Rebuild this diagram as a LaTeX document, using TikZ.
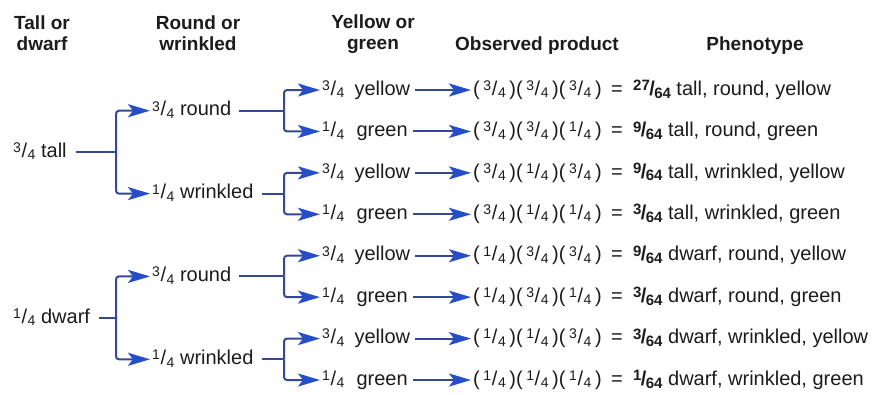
\documentclass[tikz,border=0pt]{standalone}
\usepackage{fontspec}
\setmainfont{Liberation Sans}
\usetikzlibrary{arrows.meta}
\definecolor{txt}{RGB}{28,28,28}
\definecolor{lin}{RGB}{52,72,150}
\definecolor{arw}{RGB}{38,78,200}
\newcommand{\fsm}{\fontsize{14}{15}\selectfont}
\newcommand{\fbg}{\fontsize{15}{16}\selectfont}
\newcommand{\fr}[2]{\raisebox{4.8pt}{\fsm #1}\kern0.6pt/\kern0.6pt\raisebox{-2.5pt}{\fsm #2}}
\newcommand{\bfr}[2]{\textbf{\raisebox{4.6pt}{\fbg #1}\kern-0.6pt/\kern-0.6pt\raisebox{-2.8pt}{\fbg #2}}}
\newcommand{\pr}[1]{(\kern3.6pt#1\kern3.6pt)}
\tikzset{
  lab/.style={anchor=west, inner sep=0pt, text height=10.4pt, text depth=0pt,
    font=\fontsize{20}{24}\selectfont, text=txt},
  hd/.style={anchor=base, inner sep=0pt, font=\bfseries\fontsize{19}{22}\selectfont, text=txt},
  stem/.style={draw=lin, line width=2pt},
  arr/.style={draw=lin, line width=2pt, rounded corners=3pt, shorten >=2pt,
    -{Stealth[length=22pt,width=13pt,inset=5pt,color=arw]}}
}
\begin{document}
\begin{tikzpicture}[x=1pt,y=-1pt]
\useasboundingbox (0,0) rectangle (872,394);
\fill[white] (0,0) rectangle (872,394);
% headers
\node[hd] (h1a) at (42,29) {Tall or};
\node[hd] (h1b) at (42,50) {dwarf};
\node[hd] (h2a) at (198,29) {Round or};
\node[hd] (h2b) at (198,50) {wrinkled};
\node[hd] (h3a) at (373,28) {Yellow or};
\node[hd] (h3b) at (373,49) {green};
\node[hd] (h4) at (537,50) {Observed product};
\node[hd] (h5) at (755,50) {Phenotype};
% third level rows
\foreach \i/\lab/\a/\b/\c/\n/\ph in {
  1/{\fr34\enspace yellow}/3/3/3/27/{tall, round, yellow},
  2/{\fr14\enspace\kern2pt green}/3/3/1/9/{tall, round, green},
  3/{\fr34\enspace yellow}/3/1/3/9/{tall, wrinkled, yellow},
  4/{\fr14\enspace\kern2pt green}/3/1/1/3/{tall, wrinkled, green},
  5/{\fr34\enspace yellow}/1/3/3/9/{dwarf, round, yellow},
  6/{\fr14\enspace\kern2pt green}/1/3/1/3/{dwarf, round, green},
  7/{\fr34\enspace yellow}/1/1/3/3/{dwarf, wrinkled, yellow},
  8/{\fr14\enspace\kern2pt green}/1/1/1/1/{dwarf, wrinkled, green}}
{
  \pgfmathsetmacro\yy{90+(\i-1)*41.43}
  \node[lab] (g\i) at (322,\yy) {\lab};
  \node[lab] (p\i) at (473,\yy) {\pr{\fr{\a}{4}}\pr{\fr{\b}{4}}\pr{\fr{\c}{4}}};
  \node[lab,anchor=center] (e\i) at (617,\yy) {=};
  \node[lab] (f\i) at (633,\yy) {\bfr{\n}{64} \ph};
  \draw[arr] ([xshift=5pt]g\i.east) -- (p\i.west);
}
% second and first level
\node[lab] (r1) at (152,110.7) {\fr34 round};
\node[lab] (w1) at (152,193.6) {\fr14 wrinkled};
\node[lab] (r2) at (152,276.4) {\fr34 round};
\node[lab] (w2) at (152,359.3) {\fr14 wrinkled};
\node[lab] (tall) at (13,152.1) {\fr34 tall};
\node[lab] (dwarf) at (13,317.9) {\fr14 dwarf};
\coordinate (X1) at (116,0);
\coordinate (X2) at (284,0);
\foreach \n/\u/\l in {tall/r1/w1, dwarf/r2/w2}{
  \draw[stem] ([xshift=9pt]\n.east) -- (\n -| X1);
  \draw[arr] (\n -| X1) |- (\u.west);
  \draw[arr] (\n -| X1) |- (\l.west);
}
\foreach \n/\u/\l in {r1/g1/g2, w1/g3/g4, r2/g5/g6, w2/g7/g8}{
  \draw[stem] ([xshift=8pt]\n.east) -- (\n -| X2);
  \draw[arr] (\n -| X2) |- (\u.west);
  \draw[arr] (\n -| X2) |- (\l.west);
}
\end{tikzpicture}
\end{document}
